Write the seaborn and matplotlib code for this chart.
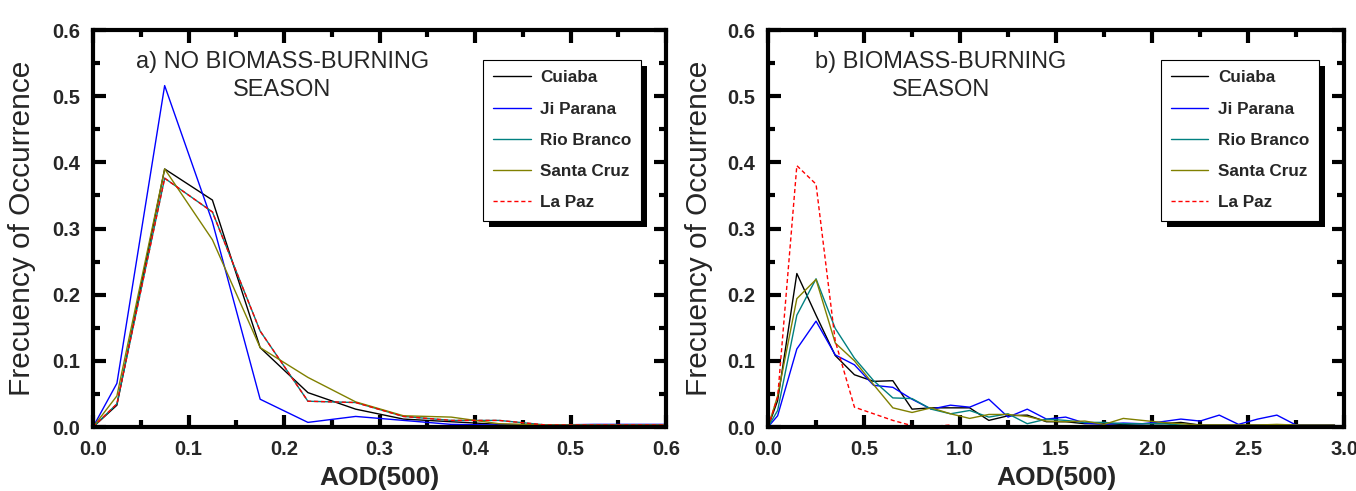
import numpy as np
import pandas as pd
import matplotlib
matplotlib.use("Agg")
import matplotlib.pyplot as plt
from matplotlib.ticker import MultipleLocator, FormatStrFormatter
from matplotlib.patches import Rectangle
import seaborn as sns

sns.set_theme(style="white")
plt.rcParams['font.family'] = ['Liberation Sans', 'DejaVu Sans']

stations = ["Cuiaba", "Ji Parana", "Rio Branco", "Santa Cruz", "La Paz"]
colors = ["#000000", "#0000ff", "#008080", "#808000", "#ff0000"]

# ---- panel a: no biomass-burning season (bin width 0.05) ----
aod_a = [0.0, 0.025, 0.075, 0.125, 0.175, 0.225, 0.275, 0.325, 0.375, 0.425,
         0.475, 0.525, 0.575, 0.625]
cuiaba_a = [0.0, 0.033, 0.390, 0.343, 0.120, 0.052, 0.027, 0.012, 0.008, 0.004,
            0.003, 0.003, 0.003, 0.003]
jiparana_a = [0.0, 0.066, 0.516, 0.310, 0.042, 0.007, 0.016, 0.010, 0.004, 0.003,
              0.003, 0.004, 0.004, 0.004]
riobranco_a = [0.0, 0.035, 0.376, 0.325, 0.145, 0.039, 0.037, 0.016, 0.010, 0.010,
               0.003, 0.003, 0.003, 0.003]
santacruz_a = [0.0, 0.047, 0.390, 0.283, 0.120, 0.075, 0.038, 0.017, 0.015, 0.005,
               0.003, 0.003, 0.003, 0.003]
lapaz_a = [0.0, 0.035, 0.376, 0.325, 0.145, 0.039, 0.037, 0.016, 0.010, 0.010,
           0.003, 0.003, 0.003, 0.003]

# ---- panel b: biomass-burning season (bin width 0.1) ----
aod_b = [0.0, 0.05, 0.15, 0.25, 0.35, 0.45, 0.55, 0.65, 0.75, 0.85, 0.95,
         1.05, 1.15, 1.25, 1.35, 1.45, 1.55, 1.65, 1.75, 1.85, 1.95,
         2.05, 2.15, 2.25, 2.35, 2.45, 2.55, 2.65, 2.75, 2.85, 2.95]
cuiaba_b = [0.0, 0.040, 0.232, 0.169, 0.108, 0.079, 0.069, 0.070, 0.027, 0.029, 0.029,
            0.029, 0.010, 0.017, 0.018, 0.008, 0.008, 0.005, 0.005, 0.004, 0.005,
            0.005, 0.007, 0.003, 0.003, 0.003, 0.003, 0.003, 0.003, 0.003, 0.003]
jiparana_b = [0.0, 0.017, 0.118, 0.160, 0.109, 0.094, 0.063, 0.060, 0.042, 0.027, 0.033,
              0.030, 0.042, 0.015, 0.027, 0.012, 0.015, 0.006, 0.004, 0.006, 0.005,
              0.008, 0.012, 0.009, 0.018, 0.004, 0.012, 0.018, 0.003, 0.003, 0.003]
riobranco_b = [0.0, 0.025, 0.169, 0.224, 0.149, 0.104, 0.070, 0.044, 0.043, 0.027, 0.020,
               0.025, 0.015, 0.020, 0.005, 0.012, 0.010, 0.007, 0.007, 0.005, 0.005,
               0.005, 0.003, 0.002, 0.002, 0.002, 0.002, 0.002, 0.002, 0.002, 0.002]
santacruz_b = [0.0, 0.047, 0.194, 0.223, 0.127, 0.100, 0.064, 0.029, 0.022, 0.029, 0.020,
               0.013, 0.019, 0.019, 0.016, 0.009, 0.008, 0.009, 0.004, 0.013, 0.010,
               0.007, 0.005, 0.003, 0.003, 0.003, 0.003, 0.004, 0.003, 0.003, 0.003]
lapaz_b = [0.0, 0.045, 0.395, 0.367, 0.130, 0.030, 0.020, 0.010, 0.002, 0.001, 0.003]

series_a = [cuiaba_a, jiparana_a, riobranco_a, santacruz_a, lapaz_a]
series_b = [cuiaba_b, jiparana_b, riobranco_b, santacruz_b, lapaz_b]


def long_df(x, series):
    rows = []
    for name, vals in zip(stations, series):
        for xi, yi in zip(x, vals):
            rows.append((name, xi, yi))
    return pd.DataFrame(rows, columns=["station", "aod", "freq"])


df_a = long_df(aod_a, series_a)
df_b = long_df(aod_b, series_b)

fig = plt.figure(figsize=(13.56, 4.91), dpi=100)
ax1 = fig.add_axes([0.0686, 0.1303, 0.4226, 0.8086])
ax2 = fig.add_axes([0.5664, 0.1303, 0.4248, 0.8086])

palette = dict(zip(stations, colors))
dashes = {s: "" for s in stations}
dashes["La Paz"] = (3, 2)

legends = []


def draw(ax, df, xmax, xmaj, xmin, title, ylab_x):
    sns.lineplot(data=df, x="aod", y="freq", hue="station", style="station",
                 hue_order=stations, style_order=stations, palette=palette,
                 dashes=dashes, linewidth=1.0, ax=ax, estimator=None, sort=False)
    ax.set_xlim(0, xmax)
    ax.set_ylim(0, 0.6)
    ax.xaxis.set_major_locator(MultipleLocator(xmaj))
    ax.xaxis.set_minor_locator(MultipleLocator(xmin))
    ax.yaxis.set_major_locator(MultipleLocator(0.1))
    ax.yaxis.set_minor_locator(MultipleLocator(0.05))
    ax.tick_params(which="both", direction="in", top=True, right=True,
                   bottom=True, left=True, color="black")
    ax.tick_params(which="major", length=9, width=3, labelsize=14.5, pad=9)
    ax.tick_params(which="minor", length=5, width=3)
    ax.xaxis.set_major_formatter(FormatStrFormatter("%.1f"))
    ax.yaxis.set_major_formatter(FormatStrFormatter("%.1f"))
    for lab in ax.get_xticklabels() + ax.get_yticklabels():
        lab.set_fontweight("bold")
    for sp in ax.spines.values():
        sp.set_visible(True)
        sp.set_linewidth(3)
        sp.set_color("black")
    ax.set_xlabel("AOD(500)", fontsize=19, fontweight="bold")
    ax.xaxis.set_label_coords(0.5, -0.098)
    ax.set_ylabel("Frecuency of Occurrence", fontsize=21.5)
    ax.yaxis.set_label_coords(ylab_x, 0.5)
    ax.text(title[0], 0.948, title[1], transform=ax.transAxes, ha="center",
            va="top", fontsize=17, linespacing=1.35, multialignment="center")
    handles, labels = ax.get_legend_handles_labels()
    leg = ax.legend(handles, labels, loc="upper right",
                    bbox_to_anchor=(0.957, 0.924), borderaxespad=0,
                    frameon=True, fancybox=False, edgecolor="black",
                    framealpha=1, prop={"weight": "bold", "size": 12.3},
                    handlelength=2.2, labelspacing=0.95, handletextpad=0.55,
                    borderpad=0.6)
    leg.get_frame().set_linewidth(0.8)
    leg.set_zorder(6)
    legends.append((ax, leg))


draw(ax1, df_a, 0.6, 0.1, 0.05, (0.33, "a) NO BIOMASS-BURNING\nSEASON"), -0.10)
draw(ax2, df_b, 3.0, 0.5, 0.25, (0.30, "b) BIOMASS-BURNING\nSEASON"), -0.095)

# black offset shadow behind each legend box
fig.canvas.draw()
for ax, leg in legends:
    bb = leg.get_frame().get_window_extent()
    inv = ax.transAxes.inverted()
    (x0, y0), (x1, y1) = inv.transform([(bb.x0 + 6, bb.y0 - 6), (bb.x1 + 6, bb.y1 - 6)])
    ax.add_patch(Rectangle((x0, y0), x1 - x0, y1 - y0, transform=ax.transAxes,
                           facecolor="black", edgecolor="none", zorder=5.5,
                           clip_on=False))

fig.savefig("out.png", dpi=100)
